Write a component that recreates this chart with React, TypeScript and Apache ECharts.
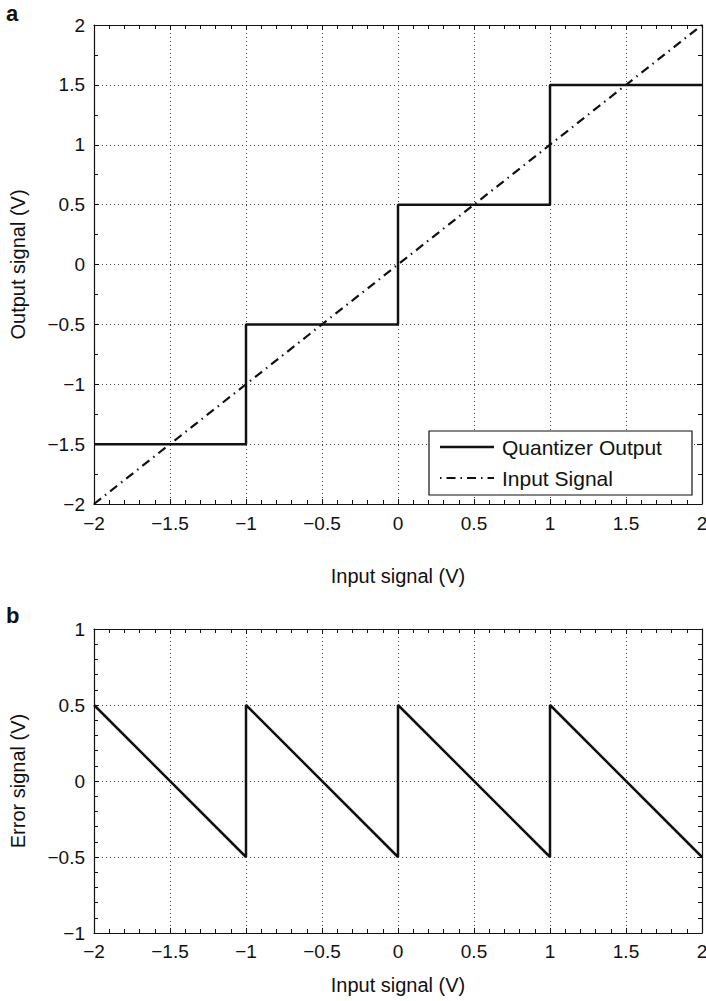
import React, { useEffect, useRef } from "react";
import * as echarts from "echarts";

const quantX = [-2, -1, -1, 0, 0, 1, 1, 2];
const quantY = [-1.5, -1.5, -0.5, -0.5, 0.5, 0.5, 1.5, 1.5];
const inputX = [-2, 2];
const inputY = [-2, 2];
const errX = [-2, -1, -1, 0, 0, 1, 1, 2];
const errY = [0.5, -0.5, 0.5, -0.5, 0.5, -0.5, 0.5, -0.5];
const legendNames = ["Quantizer Output", "Input Signal"];
const titleA = "Output signal (V)";
const titleB = "Error signal (V)";
const xTitle = "Input signal (V)";

const FONT = "'Liberation Sans', Arial, Helvetica, sans-serif";
const INK = "#111";

const fmt = (v: number) => String(v).replace("-", "\u2212");

function mainX(gridIndex: number, nameGap: number, labelMargin: number) {
  return {
    type: "value",
    gridIndex,
    min: -2,
    max: 2,
    interval: 0.5,
    name: xTitle,
    nameLocation: "middle",
    nameGap,
    nameTextStyle: { fontFamily: FONT, fontSize: 20, color: INK },
    axisLine: { show: true, onZero: false, lineStyle: { color: INK, width: 1.2 } },
    axisTick: { show: true, inside: true, length: 5, lineStyle: { color: INK } },
    minorTick: { show: true, splitNumber: 5, length: 4, lineStyle: { color: INK } },
    axisLabel: { fontFamily: FONT, fontSize: 19, color: INK, margin: labelMargin, formatter: fmt },
    splitLine: { show: true, lineStyle: { type: [1, 3], color: "#444", width: 1 } },
  };
}
function mirrorX(gridIndex: number) {
  return {
    type: "value",
    gridIndex,
    position: "top",
    min: -2,
    max: 2,
    interval: 0.5,
    axisLine: { show: true, onZero: false, lineStyle: { color: INK, width: 1.2 } },
    axisTick: { show: true, inside: true, length: 5, lineStyle: { color: INK } },
    minorTick: { show: true, splitNumber: 5, length: 4, lineStyle: { color: INK } },
    axisLabel: { show: false },
    splitLine: { show: false },
  };
}
function mainY(gridIndex: number, min: number, max: number, name: string, minorSplit: number) {
  return {
    type: "value",
    gridIndex,
    min,
    max,
    interval: 0.5,
    name,
    nameLocation: "middle",
    nameGap: 66,
    nameTextStyle: { fontFamily: FONT, fontSize: 20, color: INK },
    axisLine: { show: true, onZero: false, lineStyle: { color: INK, width: 1.2 } },
    axisTick: { show: true, inside: true, length: 5, lineStyle: { color: INK } },
    minorTick: { show: true, splitNumber: minorSplit, length: 4, lineStyle: { color: INK } },
    axisLabel: { fontFamily: FONT, fontSize: 19, color: INK, margin: 9, formatter: fmt },
    splitLine: { show: true, lineStyle: { type: [1, 3], color: "#444", width: 1 } },
  };
}
function mirrorY(gridIndex: number, min: number, max: number, minorSplit: number) {
  return {
    type: "value",
    gridIndex,
    position: "right",
    min,
    max,
    interval: 0.5,
    axisLine: { show: true, onZero: false, lineStyle: { color: INK, width: 1.2 } },
    axisTick: { show: true, inside: true, length: 5, lineStyle: { color: INK } },
    minorTick: { show: true, splitNumber: minorSplit, length: 4, lineStyle: { color: INK } },
    axisLabel: { show: false },
    splitLine: { show: false },
  };
}

export default function App() {
  const ref = useRef<HTMLDivElement>(null);
  useEffect(() => {
    document.body.style.margin = "0";
    const chart = echarts.init(ref.current!, null, { renderer: "svg" });
    const zip = (xs: number[], ys: number[]) => xs.map((x, i) => [x, ys[i]]);
    chart.setOption({
      animation: false,
      backgroundColor: "#fff",
      grid: [
        { left: 94, top: 25, width: 608, height: 479, containLabel: false, outerBoundsMode: "none" },
        { left: 94, top: 629, width: 608, height: 304, containLabel: false, outerBoundsMode: "none" },
      ],
      xAxis: [mainX(0, 62, 10), mirrorX(0), mainX(1, 42, 9), mirrorX(1)],
      yAxis: [
        mainY(0, -2, 2, titleA, 2),
        mirrorY(0, -2, 2, 2),
        mainY(1, -1, 1, titleB, 5),
        mirrorY(1, -1, 1, 5),
      ],
      series: [
        {
          name: legendNames[1],
          type: "line",
          xAxisIndex: 0,
          yAxisIndex: 0,
          data: zip(inputX, inputY),
          symbol: "none",
          lineStyle: { color: INK, width: 2.2, type: [9, 5, 1.5, 5] },
        },
        {
          name: legendNames[0],
          type: "line",
          xAxisIndex: 0,
          yAxisIndex: 0,
          data: zip(quantX, quantY),
          symbol: "none",
          lineStyle: { color: INK, width: 2.5 },
        },
        {
          name: "Error",
          type: "line",
          xAxisIndex: 2,
          yAxisIndex: 2,
          data: zip(errX, errY),
          symbol: "none",
          lineStyle: { color: INK, width: 2.5 },
        },
      ],
      graphic: [
        { type: "text", x: 6, y: 2, style: { text: "a", font: `bold 22px ${FONT}`, fill: INK, verticalAlign: "top" } },
        { type: "text", x: 6, y: 604, style: { text: "b", font: `bold 22px ${FONT}`, fill: INK, verticalAlign: "top" } },
        {
          type: "rect",
          shape: { x: 429, y: 431, width: 263, height: 64 },
          style: { fill: "#fff", stroke: INK, lineWidth: 1.2 },
          z: 100,
        },
        {
          type: "line",
          shape: { x1: 440, y1: 447, x2: 494, y2: 447 },
          style: { stroke: INK, lineWidth: 2.5 },
          z: 101,
        },
        {
          type: "line",
          shape: { x1: 440, y1: 478, x2: 494, y2: 478 },
          style: { stroke: INK, lineWidth: 2.2, lineDash: [1.5, 5, 9, 5] },
          z: 101,
        },
        {
          type: "text",
          x: 502,
          y: 447,
          style: { text: legendNames[0], font: `21px ${FONT}`, fill: INK, verticalAlign: "middle" },
          z: 101,
        },
        {
          type: "text",
          x: 502,
          y: 478,
          style: { text: legendNames[1], font: `21px ${FONT}`, fill: INK, verticalAlign: "middle" },
          z: 101,
        },
      ],
    });
    return () => chart.dispose();
  }, []);
  return <div ref={ref} style={{ width: 706, height: 1001 }} />;
}
